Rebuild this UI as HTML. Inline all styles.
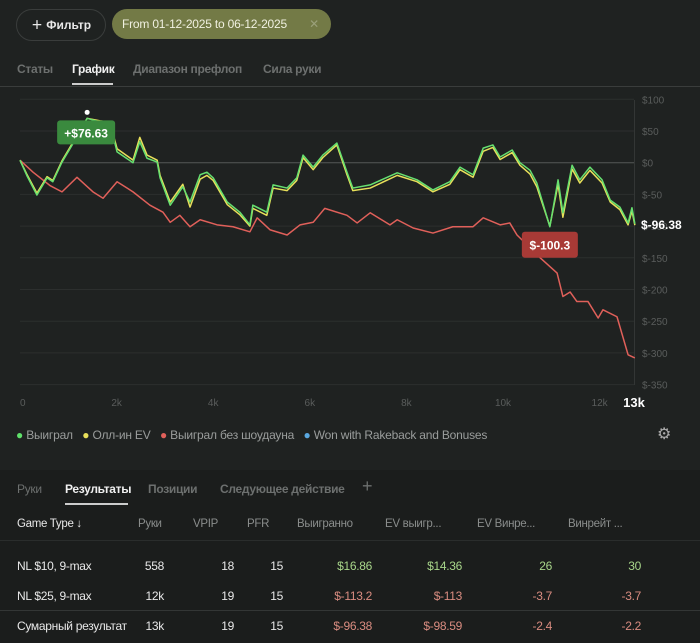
<!DOCTYPE html>
<html><head><meta charset="utf-8">
<style>
body{margin:0;width:700px;height:643px;background:#1f2221;font-family:"Liberation Sans","Noto Sans CJK SC",sans-serif;overflow:hidden;position:relative;color:#ddd}
.abs{position:absolute}
.btn{position:absolute;border-radius:16px;height:30px;line-height:30px;font-size:12px}
.tab{position:absolute;font-size:12px;color:#6d706f;font-weight:bold;letter-spacing:-0.3px}
.th{position:absolute;top:518px;font-size:11.5px;color:#8a8d8c;letter-spacing:-0.3px}
.td{position:absolute;font-size:12px;color:#e8e8e8;text-align:right;letter-spacing:-0.3px}
.g{color:#a8d68a}.r{color:#d98c80}
</style></head><body>
<div class="btn" style="left:16px;top:9px;width:88px;border:1px solid #3a3d3c;text-align:center;color:#e8e8e8;font-weight:bold">＋ Фильтр</div>
<div class="btn" style="left:112px;top:9px;width:219px;background:#737a46;color:#f0f0e0;padding-left:10px;box-sizing:border-box;letter-spacing:-0.2px">From 01-12-2025 to 06-12-2025<span style="position:absolute;right:12px;color:#9aa07a">✕</span></div>
<div class="tab" style="left:17px;top:62px">Статы</div>
<div class="tab" style="left:72px;top:62px;color:#f0f0f0">График</div>
<div class="abs" style="left:72px;top:83px;width:41px;height:2px;background:#ccc"></div>
<div class="tab" style="left:133px;top:62px">Диапазон префлоп</div>
<div class="tab" style="left:263px;top:62px">Сила руки</div>
<div class="abs" style="left:0;top:86px;width:700px;height:1px;background:#3a3d3c"></div>

<svg id="chart" class="abs" style="left:0;top:0" width="700" height="470"></svg>

<div class="abs" style="left:16px;top:428px;font-size:12px;color:#9a9d9c;white-space:nowrap;letter-spacing:-0.2px">
<span><span style="color:#5fe06a">●</span> Выиграл</span>&nbsp;&nbsp;
<span><span style="color:#e8e05a">●</span> Олл-ин EV</span>&nbsp;&nbsp;
<span><span style="color:#e0605a">●</span> Выиграл без шоудауна</span>&nbsp;&nbsp;
<span><span style="color:#5aa8e0">●</span> Won with Rakeback and Bonuses</span></div>
<div class="abs" style="left:657px;top:424px;font-size:16px;color:#aaa">⚙</div>

<div class="abs" style="left:0;top:470px;width:700px;height:173px;background:#1b1d1c"></div>
<div class="tab" style="left:17px;top:482px;font-weight:normal">Руки</div>
<div class="tab" style="left:65px;top:482px;color:#f0f0f0">Результаты</div>
<div class="abs" style="left:65px;top:503px;width:63px;height:2px;background:#ccc"></div>
<div class="tab" style="left:148px;top:482px">Позиции</div>
<div class="tab" style="left:220px;top:482px">Следующее действие</div>
<div class="tab" style="left:362px;top:476px;font-size:18px;font-weight:normal">+</div>
<div class="abs" style="left:0;top:540px;width:700px;height:1px;background:#2a2d2c"></div>
<div class="th" style="left:17px;color:#e8e8e8">Game Type ↓</div>
<div class="th" style="left:138px">Руки</div>
<div class="th" style="left:193px">VPIP</div>
<div class="th" style="left:247px">PFR</div>
<div class="th" style="left:297px">Выигранно</div>
<div class="th" style="left:385px">EV выигр...</div>
<div class="th" style="left:477px">EV Винре...</div>
<div class="th" style="left:568px">Винрейт ...</div>
<div class="abs" style="left:0;top:610px;width:700px;height:1px;background:#333635"></div>
<div id="rows"></div>
<script>
const hands=[0,0.14,0.35,0.56,0.68,0.87,1.08,1.39,1.66,1.86,2.01,2.34,2.48,2.63,2.84,2.9,3.11,3.37,3.52,3.73,3.87,4.0,4.29,4.55,4.76,4.82,5.11,5.24,5.53,5.73,5.86,6.07,6.27,6.56,6.77,6.89,7.25,7.81,8.22,8.55,8.9,9.11,9.38,9.59,9.79,9.94,10.19,10.35,10.56,10.7,10.97,11.14,11.24,11.43,11.59,11.8,12.05,12.22,12.42,12.59,12.67,12.73];
const won=[4,-20,-51,-24,-30,1,28,70,64,63,17,0,33,7,1,-24,-67,-38,-62,-19,-15,-24,-62,-78,-98,-67,-78,-35,-40,-24,12,-7,12,31,-15,-40,-35,-16,-27,-43,-30,-7,-19,23,28,9,20,0,-12,-32,-101,-27,-79,-4,-27,-7,-27,-59,-70,-95,-71,-96.38];
const allinEv=[4,-18,-48,-22,-28,3,30,70,66,64,22,4,40,12,4,-20,-62,-34,-70,-26,-20,-28,-66,-82,-100,-72,-83,-40,-44,-28,8,-11,8,28,-19,-44,-40,-20,-30,-46,-34,-11,-23,18,24,5,16,-4,-18,-38,-100,-34,-86,-10,-32,-12,-32,-62,-74,-98,-76,-98.59];
const hands2=[0,0.27,0.62,0.87,1.18,1.51,1.72,2.01,2.34,2.69,2.96,3.11,3.31,3.52,3.73,4.08,4.41,4.76,4.91,5.18,5.53,5.8,6.07,6.31,6.77,6.98,7.25,7.66,7.81,8.14,8.55,8.96,9.38,9.59,9.94,10.14,10.29,10.77,11.12,11.24,11.39,11.53,11.76,11.97,12.07,12.36,12.59,12.73];
const noShowdown=[4,-15,-36,-46,-23,-46,-56,-30,-46,-67,-78,-94,-83,-101,-90,-98,-101,-109,-87,-106,-114,-98,-94,-72,-83,-95,-79,-98,-90,-103,-111,-101,-101,-87,-98,-95,-114,-150,-174,-211,-204,-219,-219,-245,-232,-243,-303,-308];
const yTicks=[100,50,0,-50,-100,-150,-200,-250,-300,-350];
const xTicks=[0,2,4,6,8,10,12];
const xs=k=>20+k*48.3, ys=v=>162.7-v*0.634;
const svg=document.getElementById('chart'),NS='http://www.w3.org/2000/svg';
function mk(t,a,txt){const e=document.createElementNS(NS,t);for(const k in a)e.setAttribute(k,a[k]);if(txt!=null)e.textContent=txt;svg.appendChild(e);return e;}
yTicks.forEach(v=>{
 const l=mk('line',{x1:20,x2:634,y1:ys(v),y2:ys(v),stroke:v===0?'#555857':'#2c2f2e','stroke-width':1});
 
 
 const t=mk('text',{x:642,y:ys(v)+4,fill:'#5a5d5c','font-size':10},'$'+v);
 
 
});
mk('line',{x1:634.5,x2:634.5,y1:100,y2:385,stroke:'#333635'});
xTicks.forEach(k=>{
 const t=mk('text',{x:xs(k),y:406,fill:'#5a5d5c','font-size':10,'text-anchor':k===0?'start':'middle'},k===0?'0':k+'k');
 
 
});
const lt=mk('text',{x:634,y:407,fill:'#fff','font-size':13,'font-weight':'bold','text-anchor':'middle'},'13k');


function line(xa,ya,col,name){
 const p=mk('polyline',{points:xa.map((k,i)=>xs(k)+','+ys(ya[i])).join(' '),fill:'none',stroke:col,'stroke-width':1.5,'stroke-linejoin':'round'});
 
 
}
line(hands2,noShowdown,'#e0605a','series-won-no-showdown');
line(hands,allinEv,'#e8e05a','series-allin-ev');
line(hands,won,'#66e070','series-won');
let mi=0,ni=0;won.forEach((v,i)=>{if(v>won[mi])mi=i;if(v<won[ni])ni=i;});
const mx=xs(hands[mi]),my=ys(won[mi]);
mk('circle',{cx:mx,cy:my-6,r:2.5,fill:'#fff'});
const b1=mk('rect',{x:mx-30,y:my+2,width:58,height:24,rx:3,fill:'#3a8a3e'});


mk('text',{x:mx-1,y:my+19,fill:'#fff','font-size':12,'font-weight':'bold','text-anchor':'middle'},'+$76.63');
const nx=xs(hands[ni]),ny=ys(won[ni]);
const b2=mk('rect',{x:nx-28,y:ny+5,width:56,height:26,rx:3,fill:'#a83a36'});


mk('text',{x:nx,y:ny+23,fill:'#fff','font-size':12,'font-weight':'bold','text-anchor':'middle'},'$-100.3');
const ft=mk('text',{x:641,y:ys(won[won.length-1])+5,fill:'#fff','font-size':12,'font-weight':'bold'},'$-96.38');


const rows=[["NL $10, 9-max","558","18","15","$16.86","$14.36","26","30","g"],["NL $25, 9-max","12k","19","15","$-113.2","$-113","-3.7","-3.7","r"],["Сумарный результат","13k","19","15","$-96.38","$-98.59","-2.4","-2.2","r"]];
const tops=[559,589,619],rights=[164,234,283,372,462,552,641];
const R=document.getElementById('rows');
rows.forEach((r,i)=>{
 const n=document.createElement('div');n.className='td';n.style.cssText=`left:17px;top:${tops[i]}px;text-align:left`;n.textContent=r[0];
 
 
 R.appendChild(n);
 for(let j=1;j<8;j++){const c=document.createElement('div');c.className='td'+(j>=4?' '+r[8]:'');c.style.cssText=`right:${700-rights[j-1]}px;top:${tops[i]}px`;c.textContent=r[j];
 
 
 R.appendChild(c);}
});
</script>
</body></html>
